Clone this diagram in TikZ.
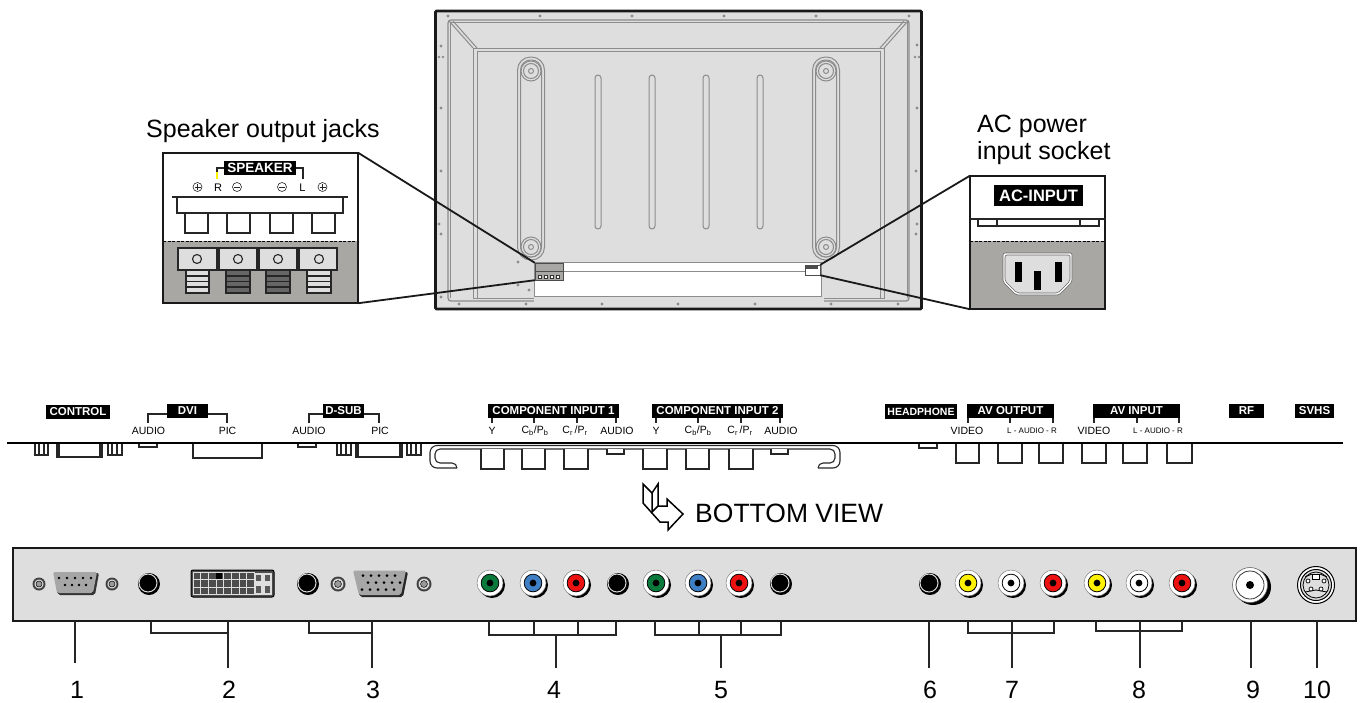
\documentclass[tikz,border=0pt]{standalone}
\usepackage{fontspec}
\setmainfont{Liberation Sans}
\definecolor{panelgray}{HTML}{DEDEDE}
\definecolor{insetgray}{HTML}{A9A7A3}
\definecolor{linegray}{HTML}{8C8C8C}
\definecolor{jackgreen}{HTML}{0A7A3C}
\definecolor{jackblue}{HTML}{3F7FC4}
\definecolor{jackred}{HTML}{EE1111}
\definecolor{jackyellow}{HTML}{FFF200}
\tikzset{
  tag/.style = {fill=black, text=white, inner sep=0pt, font=\bfseries\fontsize{11.5}{11.5}\selectfont},
  small/.style = {inner sep=0pt, font=\fontsize{10.5}{10.5}\selectfont},
  tiny/.style = {inner sep=0pt, font=\fontsize{8}{10}\selectfont},
  caption/.style = {inner sep=0pt, anchor=base west, font=\fontsize{25}{25}\selectfont},
  number/.style = {inner sep=0pt, outer ysep=13pt, anchor=base, font=\fontsize{25}{25}\selectfont},
  frame/.style = {draw=black!90, line width=2.6pt},
  part/.style = {draw=black!85, line width=1.1pt},
  leader/.style = {draw=black!85, line width=1.5pt},
  inset/.style = {draw=black!90, line width=1.8pt},
  rear/.style = {draw=linegray, line width=1pt},
  screw/.style = {fill=linegray}
}
\newcommand{\rcajack}[4]{% x, y, radius, colour
  \fill[black] (#1+2,#2+2) circle (#3);
  \fill[white, draw=black!50, line width=0.5pt] (#1,#2) circle (#3);
  \fill[#4, draw=black, line width=0.8pt] (#1,#2) circle (#3*0.68);
  \fill[black] (#1,#2) circle (#3*0.26);
}
\newcommand{\blackjack}[2]{% x, y
  \fill[black] (#1+1,#2+1) circle (11);
  \fill[black, draw=white!85!black, line width=1pt] (#1,#2) circle (9);
}
\newcommand{\nutjack}[3]{% x, y, radius
  \fill[black!75] (#1,#2) circle (#3);
  \fill[panelgray, draw=black!70, line width=0.5pt] (#1,#2) circle (#3*0.76);
  \fill[black!40, draw=black, line width=0.5pt] (#1,#2) circle (#3*0.46);
}
\begin{document}
\begin{tikzpicture}[x=1pt, y=-1pt]
\useasboundingbox (0,0) rectangle (1360,702);

% rear of the panel
\node[frame, fill=panelgray, rounded corners=1pt, minimum width=486pt, minimum height=298pt, inner sep=0pt] (rearpanel) at (678.5,160) {};
\draw[rear, line width=1.3pt, rounded corners=3pt] (448,20) rectangle (909,301);
\draw[rear] (450,22) -- (907,22);
\draw[rear] (450,22) -- (450,298);
\draw[rear] (907,22) -- (907,298);
\draw[rear] (473,48) rectangle (884,298);
\draw[rear] (477,51) rectangle (880,298);
\draw[rear] (449,21) -- (473,48);
\draw[rear] (453,21) -- (477,48);
\draw[rear] (908,21) -- (884,48);
\draw[rear] (904,21) -- (880,48);
\draw[rear, rounded corners=13pt] (517.5,57) rectangle (544.5,260);
\draw[rear, rounded corners=10pt] (520.5,60) rectangle (541.5,257);
\draw[rear, rounded corners=13pt] (812.5,57) rectangle (839.5,260);
\draw[rear, rounded corners=10pt] (815.5,60) rectangle (836.5,257);
\draw[rear, fill=panelgray] (531,71) circle (10);
\draw[rear] (531,71) circle (7.5);
\draw[rear] (531,71) circle (2.5);
\draw[rear, fill=panelgray] (531,247) circle (10);
\draw[rear] (531,247) circle (7.5);
\draw[rear] (531,247) circle (2.5);
\draw[rear, fill=panelgray] (826,71) circle (10);
\draw[rear] (826,71) circle (7.5);
\draw[rear] (826,71) circle (2.5);
\draw[rear, fill=panelgray] (826,247) circle (10);
\draw[rear] (826,247) circle (7.5);
\draw[rear] (826,247) circle (2.5);
\draw[rear, rounded corners=3pt] (595,75) rectangle (601,229);
\draw[rear, rounded corners=3pt] (649,75) rectangle (655,229);
\draw[rear, rounded corners=3pt] (703,75) rectangle (709,229);
\draw[rear, rounded corners=3pt] (757,75) rectangle (763,229);
\fill[panelgray] (534,296) rectangle (824,303);
\draw[rear, fill=white] (534,262) rectangle (821,296);
\draw[rear] (534,271) -- (821,271);

% screws along the rim
\fill[screw] (448,16) circle (1.6);
\fill[screw] (540,16) circle (1.6);
\fill[screw] (632,16) circle (1.6);
\fill[screw] (724,16) circle (1.6);
\fill[screw] (816,16) circle (1.6);
\fill[screw] (909,16) circle (1.6);
\fill[screw] (441,46) circle (1.6);
\fill[screw] (439,57) circle (1.3);
\fill[screw] (443,57) circle (1.3);
\fill[screw] (441,108) circle (1.6);
\fill[screw] (441,171) circle (1.6);
\fill[screw] (439,224) circle (1.6);
\fill[screw] (441,234) circle (1.6);
\fill[screw] (441,297) circle (1.6);
\fill[screw] (917,45) circle (1.6);
\fill[screw] (915,57) circle (1.3);
\fill[screw] (919,57) circle (1.3);
\fill[screw] (917,108) circle (1.6);
\fill[screw] (916,171) circle (1.6);
\fill[screw] (917,224) circle (1.6);
\fill[screw] (916,234) circle (1.6);
\fill[screw] (459,304) circle (1.6);
\fill[screw] (526,304) circle (1.6);
\fill[screw] (602,304) circle (1.6);
\fill[screw] (678,304) circle (1.6);
\fill[screw] (755,304) circle (1.6);
\fill[screw] (831,304) circle (1.6);
\fill[screw] (898,304) circle (1.6);
\fill[screw] (518,262) circle (1.6);
\fill[screw] (518,285) circle (1.6);
\fill[screw] (529,290) circle (1.6);

% connectors seen on the panel
\node[draw=black!70, fill=insetgray, inner sep=0pt, minimum width=28pt, minimum height=17pt] (speakerjack) at (549,271.5) {};
\draw[black!70, line width=0.8pt] (535,271) -- (563,271);
\draw[black!80, fill=white, line width=0.6pt] (538,275) rectangle (541,278);
\draw[black!80, fill=white, line width=0.6pt] (544,275) rectangle (547,278);
\draw[black!80, fill=white, line width=0.6pt] (550,275) rectangle (553,278);
\draw[black!80, fill=white, line width=0.6pt] (556,275) rectangle (559,278);
\node[draw=black!70, fill=white, inner sep=0pt, minimum width=15pt, minimum height=10pt] (acjack) at (812.5,270) {};
\fill[black!70] (806,266) rectangle (818,268.5);

% speaker inset
\node[fill=white, inner sep=0pt, minimum width=195pt, minimum height=150pt] (speakerinset) at (260.5,228) {};
\fill[insetgray] (163,241) rectangle (358,303);
\draw[black, line width=1pt, dash pattern=on 3pt off 1.5pt] (163,241) -- (358,241);
\draw[inset] (speakerinset.south west) rectangle (speakerinset.north east);
\draw[inset] (speakerinset.north east) -- (speakerjack.north west);
\draw[inset] (speakerinset.south east) -- (speakerjack.south west);
\node[caption] (speakertitle) at (146,137) {Speaker output jacks};
\draw[part] (217,172) -- (217,168) -- (303,168) -- (303,179);
\draw[jackyellow, line width=1.1pt] (217,172) -- (217,179);
\node[tag, minimum width=72pt, minimum height=14.5pt, font=\bfseries\fontsize{13.5}{13.5}\selectfont] (speakertag) at (260,168) {SPEAKER};
\node[small, font=\fontsize{11}{11}\selectfont] (rightletter) at (218,187.5) {R};
\node[small, font=\fontsize{11}{11}\selectfont] (leftletter) at (302.5,187.5) {L};
\draw[part, line width=0.6pt] (197.5,187) circle (4.5);
\draw[part, line width=0.6pt] (194.5,187) -- (200.5,187);
\draw[part, line width=0.6pt] (197.5,184) -- (197.5,190);
\draw[part, line width=0.6pt] (237,187) circle (4.5);
\draw[part, line width=0.6pt] (234,187) -- (240,187);
\draw[part, line width=0.6pt] (282,187) circle (4.5);
\draw[part, line width=0.6pt] (279,187) -- (285,187);
\draw[part, line width=0.6pt] (322.5,187) circle (4.5);
\draw[part, line width=0.6pt] (319.5,187) -- (325.5,187);
\draw[part, line width=0.6pt] (322.5,184) -- (322.5,190);
\draw[part] (172,197) -- (348,197);
\draw[part] (177,197) -- (177,213) -- (343,213) -- (343,197);
\draw[part] (185,213) -- (185,233) -- (208,233) -- (208,213);
\draw[part] (227,213) -- (227,233) -- (250,233) -- (250,213);
\draw[part] (270,213) -- (270,233) -- (293,233) -- (293,213);
\draw[part] (312,213) -- (312,233) -- (335,233) -- (335,213);
\draw[part, fill=panelgray] (178,248) rectangle (217,270);
\draw[part, fill=panelgray] (219,248) rectangle (257,270);
\draw[part, fill=panelgray] (259,248) rectangle (297,270);
\draw[part, fill=panelgray] (299,248) rectangle (337,270);
\draw[part] (197,259) circle (4.5);
\draw[part] (238,259) circle (4.5);
\draw[part] (278,259) circle (4.5);
\draw[part] (319,259) circle (4.5);
\draw[part, fill=panelgray] (186,270) rectangle (209,293);
\draw[part, fill=black!60] (226,270) rectangle (250,293);
\draw[part, fill=black!60] (266,270) rectangle (290,293);
\draw[part, fill=panelgray] (307,270) rectangle (331,293);
\draw[part] (186,276) -- (209,276);
\draw[part] (186,281.5) -- (209,281.5);
\draw[part] (186,287) -- (209,287);
\draw[part] (226,276) -- (250,276);
\draw[part] (226,281.5) -- (250,281.5);
\draw[part] (226,287) -- (250,287);
\draw[part] (266,276) -- (290,276);
\draw[part] (266,281.5) -- (290,281.5);
\draw[part] (266,287) -- (290,287);
\draw[part] (307,276) -- (331,276);
\draw[part] (307,281.5) -- (331,281.5);
\draw[part] (307,287) -- (331,287);

% AC inset
\node[fill=white, inner sep=0pt, minimum width=135pt, minimum height=133pt] (acinset) at (1037.5,242.5) {};
\fill[insetgray] (970,241) rectangle (1105,309);
\draw[black, line width=1pt, dash pattern=on 3pt off 1.5pt] (970,241) -- (1105,241);
\draw[inset] (acinset.south west) rectangle (acinset.north east);
\draw[inset] (acinset.north west) -- (acjack.north east);
\draw[inset] (acinset.south west) -- (acjack.south east);
\node[caption] (actitleone) at (977,132) {AC power};
\node[caption] (actitletwo) at (977,159) {input socket};
\node[tag, minimum width=89pt, minimum height=21pt, font=\bfseries\fontsize{16.5}{16.5}\selectfont] (actag) at (1038.5,195.5) {AC-INPUT};
\draw[part] (970,219) -- (1105,219);
\draw[part] (978,219) -- (978,226) -- (1099,226) -- (1099,219);
\draw[part] (997,219) -- (997,226);
\draw[part] (1080,219) -- (1080,226);
\draw[black!60, fill=white, line width=0.6pt, rounded corners=2pt] (1003,253) -- (1072,253) -- (1072,282) -- (1059,295) -- (1016,295) -- (1003,282) -- cycle;
\draw[black!60, fill=panelgray, line width=0.6pt, rounded corners=2pt] (1005,255) -- (1070,255) -- (1070,281) -- (1058,293) -- (1017,293) -- (1005,281) -- cycle;
\fill[black] (1015,262) rectangle (1022,282);
\fill[black] (1055,262) rectangle (1062,282);
\fill[black] (1034,271) rectangle (1041,290);

% bottom edge, as a strip
\node[tag, minimum width=64pt, minimum height=14pt] (controltag) at (78,412) {CONTROL};
\draw[part] (148,423) -- (148,414) -- (227,414) -- (227,423);
\node[tag, minimum width=41pt, minimum height=14pt] (dvitag) at (187.5,411) {DVI};
\draw[part] (309,423) -- (309,414) -- (379,414) -- (379,423);
\node[tag, minimum width=41pt, minimum height=14pt] (dsubtag) at (343.5,411) {D-SUB};
\node[small] (dviaudio) at (148.5,431) {AUDIO};
\node[small] (dvipic) at (227.5,431) {PIC};
\node[small] (dsubaudio) at (309,431) {AUDIO};
\node[small] (dsubpic) at (380,431) {PIC};
\draw[part] (492,418) -- (492,423);
\draw[part] (534,418) -- (534,423);
\draw[part] (577,418) -- (577,423);
\draw[part] (616,418) -- (616,423);
\node[tag, minimum width=131pt, minimum height=14pt] (componenttagone) at (553.5,411) {COMPONENT INPUT 1};
\draw[part] (656,418) -- (656,423);
\draw[part] (698,418) -- (698,423);
\draw[part] (741,418) -- (741,423);
\draw[part] (780,418) -- (780,423);
\node[tag, minimum width=131pt, minimum height=14pt] (componenttagtwo) at (717.5,411) {COMPONENT INPUT 2};
\node[small] (ylabelone) at (492,431) {Y};
\node[small] (cblabelone) at (535,431) {C\textsubscript{b}/P\textsubscript{b}};
\node[small] (crlabelone) at (575,431) {C\textsubscript{r}\,/P\textsubscript{r}};
\node[small] (audiolabelone) at (617,431) {AUDIO};
\node[small] (ylabeltwo) at (656,431) {Y};
\node[small] (cblabeltwo) at (698,431) {C\textsubscript{b}/P\textsubscript{b}};
\node[small] (crlabeltwo) at (740,431) {C\textsubscript{r}\,/P\textsubscript{r}};
\node[small] (audiolabeltwo) at (781,431) {AUDIO};
\node[tag, minimum width=72pt, minimum height=15pt, font=\bfseries\fontsize{10.5}{10.5}\selectfont] (headphonetag) at (921,411.5) {HEADPHONE};
\draw[part] (968,418) -- (968,423);
\draw[part] (1010,418) -- (1010,423);
\draw[part] (1053,418) -- (1053,423);
\node[tag, minimum width=87pt, minimum height=14pt] (avouttag) at (1010.5,411) {AV OUTPUT};
\draw[part] (1094,418) -- (1094,423);
\draw[part] (1137,418) -- (1137,423);
\draw[part] (1179,418) -- (1179,423);
\node[tag, minimum width=87pt, minimum height=14pt] (avintag) at (1136.5,411) {AV INPUT};
\node[tag, minimum width=35pt, minimum height=14pt] (rftag) at (1246.5,411) {RF};
\node[tag, minimum width=39pt, minimum height=14pt] (svhstag) at (1314.5,411) {SVHS};
\node[small] (videoout) at (967,431) {VIDEO};
\node[tiny] (audioout) at (1032,431) {L - AUDIO - R};
\node[small] (videoin) at (1094,431) {VIDEO};
\node[tiny] (audioin) at (1158,431) {L - AUDIO - R};

\draw[part] (35,443) -- (35,455) -- (48,455) -- (48,443);
\draw[part] (39,443) -- (39,455);
\draw[part] (44,443) -- (44,455);
\draw[part] (57,443) -- (57,457) -- (102,457) -- (102,443);
\draw[part] (59,443) -- (59,457);
\draw[part] (100,443) -- (100,457);
\draw[part] (108,443) -- (108,455) -- (122,455) -- (122,443);
\draw[part] (112,443) -- (112,455);
\draw[part] (117,443) -- (117,455);
\draw[part] (139,443) -- (139,447) -- (157,447) -- (157,443);
\draw[part] (193,443) -- (193,458) -- (262,458) -- (262,443);
\draw[part] (298,443) -- (298,447) -- (316,447) -- (316,443);
\draw[part] (337,443) -- (337,455) -- (351,455) -- (351,443);
\draw[part] (341,443) -- (341,455);
\draw[part] (346,443) -- (346,455);
\draw[part] (356,443) -- (356,457) -- (402,457) -- (402,443);
\draw[part] (358,443) -- (358,457);
\draw[part] (400,443) -- (400,457);
\draw[part] (407,443) -- (407,455) -- (421,455) -- (421,443);
\draw[part] (411,443) -- (411,455);
\draw[part] (416,443) -- (416,455);
\draw[part, rounded corners=7pt] (457,468) -- (430,468) -- (430,445.5) -- (840,445.5) -- (840,468) -- (818,468);
\draw[part, rounded corners=5pt] (457,468) -- (457,463) -- (435,463) -- (435,449) -- (835,449) -- (835,463) -- (818,463) -- (818,468);
\draw[part, fill=white] (481,449) -- (481,469) -- (504,469) -- (504,449);
\draw[part, fill=white] (522,449) -- (522,469) -- (545,469) -- (545,449);
\draw[part, fill=white] (564,449) -- (564,469) -- (588,469) -- (588,449);
\draw[part, fill=white] (607,449) -- (607,454) -- (624,454) -- (624,449);
\draw[part, fill=white] (643,449) -- (643,469) -- (667,469) -- (667,449);
\draw[part, fill=white] (686,449) -- (686,469) -- (709,469) -- (709,449);
\draw[part, fill=white] (729,449) -- (729,469) -- (753,469) -- (753,449);
\draw[part, fill=white] (771,449) -- (771,454) -- (788,454) -- (788,449);
\draw[part] (919,443) -- (919,448) -- (937,448) -- (937,443);
\draw[part] (956,443) -- (956,463) -- (979,463) -- (979,443);
\draw[part] (998,443) -- (998,463) -- (1022,463) -- (1022,443);
\draw[part] (1039,443) -- (1039,463) -- (1063,463) -- (1063,443);
\draw[part] (1082,443) -- (1082,463) -- (1106,463) -- (1106,443);
\draw[part] (1123,443) -- (1123,463) -- (1147,463) -- (1147,443);
\draw[part] (1167,443) -- (1167,463) -- (1192,463) -- (1192,443);
\draw[black, line width=1.6pt] (7,443) -- (1343,443);

% view arrow
\draw[black, line width=1.5pt, line join=miter] (643,484) -- (652,493) -- (658,484) -- (658,506) -- (667,506) -- (667,499) -- (683,514) -- (668,530) -- (668,522) -- (660,522) -- (643,503) -- cycle;
\draw[black, line width=1.5pt] (652,493) -- (652,512) -- (658,506);
\node[caption, font=\fontsize{26.5}{26.5}\selectfont] (viewtitle) at (695,522) {BOTTOM VIEW};

% front of the terminal panel
\node[frame, fill=panelgray, inner sep=0pt, minimum width=1343pt, minimum height=73pt] (terminals) at (684.5,584.5) {};
\nutjack{39}{584}{6.5}
\fill[black!80, rounded corners=2pt] (54,573) -- (99,573) -- (95,595) -- (58,595) -- cycle;
\fill[black!35, rounded corners=2pt] (53,572) -- (97,572) -- (93,593) -- (57,593) -- cycle;
\draw[black, line width=2.6pt, line cap=round, dash pattern=on 0pt off 8pt] (59,578) -- (92,578);
\draw[black, line width=2.6pt, line cap=round, dash pattern=on 0pt off 7pt] (65,585) -- (87,585);
\nutjack{112}{584}{6.5}
\blackjack{148}{583}
\draw[black, fill=black!70, line width=1pt, rounded corners=2pt] (191,570) rectangle (274,597);
\begin{scope}[shift={(193,572.5)}]
\draw[panelgray, line width=0.9pt, xstep=7.7pt, ystep=7.4pt] (0,0) grid (61.6,22.2);
\end{scope}
\fill[black] (216,573) rectangle (222,579);
\fill[panelgray] (254,572.5) rectangle (272,595);
\fill[black!65] (256,575) rectangle (261,581);
\fill[black!65] (265,575) rectangle (270,581);
\fill[black!65] (256,586) rectangle (261,593);
\fill[black!65] (265,586) rectangle (270,593);
\blackjack{307}{583}
\nutjack{338}{584}{7.5}
\fill[black!85, rounded corners=2pt] (354,572) -- (408,572) -- (403,597) -- (360,597) -- cycle;
\fill[black!35, rounded corners=2pt] (353,570.5) -- (406,570.5) -- (401,595) -- (359,595) -- cycle;
\draw[black, line width=3pt, line cap=round, dash pattern=on 0pt off 8pt] (363,575.5) -- (396,575.5);
\draw[black, line width=3pt, line cap=round, dash pattern=on 0pt off 8pt] (368,582.5) -- (401,582.5);
\draw[black, line width=3pt, line cap=round, dash pattern=on 0pt off 8pt] (362,589.5) -- (395,589.5);
\nutjack{424}{584}{7.5}
\rcajack{490}{583}{13}{jackgreen}
\rcajack{533}{583}{13}{jackblue}
\rcajack{576}{583}{13}{jackred}
\blackjack{617}{583}
\rcajack{656}{583}{13}{jackgreen}
\rcajack{698}{583}{13}{jackblue}
\rcajack{739}{583}{13}{jackred}
\blackjack{780}{583}
\blackjack{929}{583}
\rcajack{968}{583}{13}{jackyellow}
\rcajack{1011}{583}{13}{white}
\rcajack{1053}{583}{13}{jackred}
\rcajack{1097}{583}{13}{jackyellow}
\rcajack{1139}{583}{13}{white}
\rcajack{1182}{583}{13}{jackred}
\fill[black] (1253,587) circle (18);
\fill[white, draw=black!60, line width=0.6pt] (1250,585) circle (17.5);
\draw[black!80, line width=0.8pt] (1250,585) circle (14);
\fill[black] (1250,585) circle (4);
\draw[black, fill=white, line width=1pt] (1316,585) circle (18.5);
\draw[black, fill=panelgray, line width=1pt] (1316,585) circle (15.5);
\draw[black, line width=0.8pt] (1316,585) circle (13);
\draw[black, fill=white, line width=0.8pt] (1312.5,574) rectangle (1319.5,579);
\draw[black, line width=0.8pt] (1305,577) -- (1312,574);
\draw[black, line width=0.8pt] (1327,577) -- (1320,574);
\draw[black, fill=white, line width=0.7pt] (1308,581) circle (2);
\draw[black, fill=white, line width=0.7pt] (1324,581) circle (2);
\draw[black, line width=0.8pt] (1305,592) -- (1316,590) -- (1327,592);
\draw[black, fill=white, line width=0.7pt] (1311,589) circle (2);
\draw[black, fill=white, line width=0.7pt] (1321,589) circle (2);

% numbers and their leaders
\node[number] (numone) at (77,698) {1};
\node[number] (numtwo) at (229,698) {2};
\node[number] (numthree) at (373,698) {3};
\node[number] (numfour) at (554,698) {4};
\node[number] (numfive) at (721,698) {5};
\node[number] (numsix) at (930,698) {6};
\node[number] (numseven) at (1012,698) {7};
\node[number] (numeight) at (1139,698) {8};
\node[number] (numnine) at (1253,698) {9};
\node[number] (numten) at (1317,698) {10};
\coordinate (leadone) at (75,621);
\coordinate (leadtwo) at (228,621);
\coordinate (leadthree) at (372,621);
\coordinate (leadfour) at (556,635);
\coordinate (leadfive) at (721,635);
\coordinate (leadsix) at (929,621);
\coordinate (leadseven) at (1012,621);
\coordinate (leadeight) at (1140,621);
\coordinate (leadnine) at (1251,621);
\coordinate (leadten) at (1317,621);
\draw[leader] (leadone) -- ([yshift=5pt]leadone |- numone.north);
\draw[leader] (leadtwo) -- (leadtwo |- numtwo.north);
\draw[leader] (leadthree) -- (leadthree |- numthree.north);
\draw[leader] (leadfour) -- (leadfour |- numfour.north);
\draw[leader] (leadfive) -- (leadfive |- numfive.north);
\draw[leader] (leadsix) -- (leadsix |- numsix.north);
\draw[leader] (leadseven) -- (leadseven |- numseven.north);
\draw[leader] (leadeight) -- (leadeight |- numeight.north);
\draw[leader] (leadnine) -- (leadnine |- numnine.north);
\draw[leader] (leadten) -- (leadten |- numten.north);
\draw[part] (151,621) -- (151,633) -- (228,633);
\draw[part] (309,621) -- (309,633) -- (372,633);
\draw[part] (489,621) -- (489,635) -- (616,635) -- (616,621);
\draw[part] (534,621) -- (534,635);
\draw[part] (578,621) -- (578,635);
\draw[part] (655,621) -- (655,635) -- (781,635) -- (781,621);
\draw[part] (699,621) -- (699,635);
\draw[part] (741,621) -- (741,635);
\draw[part] (968,621) -- (968,633) -- (1054,633) -- (1054,621);
\draw[part] (1096,621) -- (1096,631) -- (1182,631) -- (1182,621);
\end{tikzpicture}
\end{document}
